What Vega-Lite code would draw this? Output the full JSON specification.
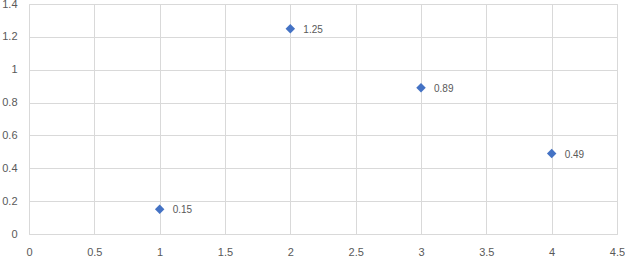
{
  "$schema": "https://vega.github.io/schema/vega-lite/v6.json",
  "width": 588,
  "height": 230,
  "autosize": {"type": "none"},
  "padding": {"left": 29, "top": 4, "right": 8, "bottom": 22},
  "background": "white",
  "config": {"view": {"stroke": "#d9d9d9"}},
  "data": {"values": [
    {"x": 1, "y": 0.15},
    {"x": 2, "y": 1.25},
    {"x": 3, "y": 0.89},
    {"x": 4, "y": 0.49}
  ]},
  "encoding": {
    "x": {"field": "x", "type": "quantitative", "scale": {"domain": [0, 4.5], "nice": false},
      "axis": {"values": [0, 0.5, 1, 1.5, 2, 2.5, 3, 3.5, 4, 4.5], "format": ".2~f", "title": null, "domain": false, "ticks": false,
        "gridColor": "#d9d9d9", "labelColor": "#595959", "labelFont": "Liberation Sans", "labelFontSize": 11, "labelPadding": 12, "labelFlush": false, "labelOverlap": false}},
    "y": {"field": "y", "type": "quantitative", "scale": {"domain": [0, 1.4], "nice": false},
      "axis": {"values": [0, 0.2, 0.4, 0.6, 0.8, 1, 1.2, 1.4], "format": ".2~f", "title": null, "domain": false, "ticks": false,
        "gridColor": "#d9d9d9", "labelColor": "#595959", "labelFont": "Liberation Sans", "labelFontSize": 11, "labelPadding": 12, "labelFlush": false, "labelOverlap": false}}
  },
  "layer": [
    {"mark": {"type": "point", "shape": "diamond", "filled": true, "size": 90, "color": "#4472C4", "opacity": 1}},
    {"mark": {"type": "text", "align": "left", "dx": 13, "dy": 1, "font": "Liberation Sans", "fontSize": 10, "color": "#595959"},
      "encoding": {"text": {"field": "y", "type": "quantitative", "format": ".2f"}}}
  ]
}
